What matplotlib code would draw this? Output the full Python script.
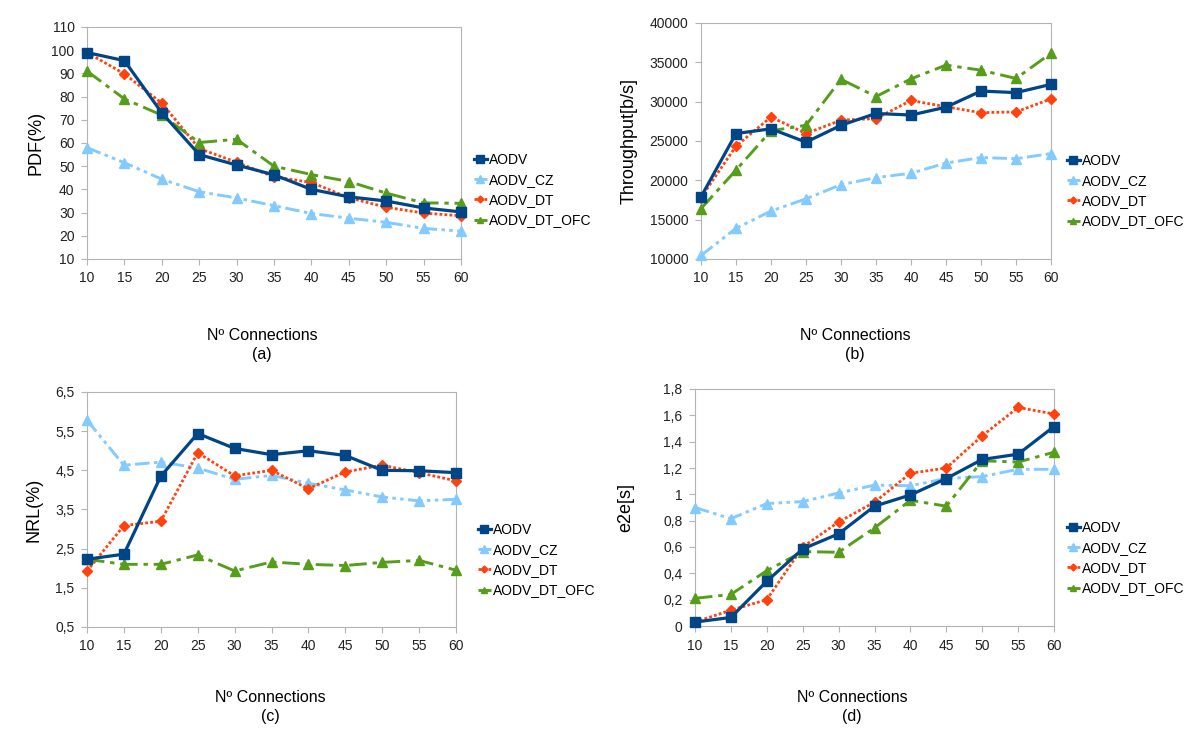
import matplotlib.pyplot as plt
from matplotlib.ticker import FuncFormatter

plt.rcParams['font.family'] = ['Liberation Sans', 'DejaVu Sans']

connections = [10, 15, 20, 25, 30, 35, 40, 45, 50, 55, 60]
series_names = ['AODV', 'AODV_CZ', 'AODV_DT', 'AODV_DT_OFC']

# (a) packet delivery fraction
pdf_aodv = [99, 95.5, 73, 55, 50.5, 46.3, 40, 36.8, 35, 32, 30.3]
pdf_cz = [58, 51.5, 44.4, 39, 36.3, 33, 29.6, 27.6, 25.8, 23.2, 22]
pdf_dt = [99, 89.8, 77.2, 57.6, 51.7, 45.4, 43, 36.4, 32.3, 29.8, 28.6]
pdf_ofc = [91, 79, 72, 60.2, 61.6, 50, 46.4, 43.4, 38.4, 34.2, 34]

# (b) throughput
thr_aodv = [17900, 25950, 26550, 24850, 27000, 28500, 28300, 29300, 31350, 31150, 32200]
thr_cz = [10450, 13900, 16100, 17650, 19450, 20350, 20900, 22200, 22900, 22750, 23400]
thr_dt = [17800, 24350, 28050, 25950, 27650, 27850, 30150, 29350, 28600, 28700, 30350]
thr_ofc = [16400, 21300, 26300, 27000, 32850, 30650, 32900, 34650, 34000, 32950, 36150]

# (c) normalized routing load
nrl_aodv = [2.23, 2.36, 4.35, 5.44, 5.06, 4.9, 5.0, 4.88, 4.5, 4.49, 4.44]
nrl_cz = [5.78, 4.63, 4.71, 4.56, 4.27, 4.37, 4.17, 4.0, 3.82, 3.72, 3.76]
nrl_dt = [1.93, 3.09, 3.2, 4.95, 4.36, 4.5, 4.03, 4.46, 4.63, 4.44, 4.23]
nrl_ofc = [2.23, 2.1, 2.1, 2.34, 1.93, 2.16, 2.1, 2.07, 2.15, 2.2, 1.95]

# (d) end to end delay
e2e_aodv = [0.03, 0.065, 0.34, 0.585, 0.7, 0.91, 0.995, 1.12, 1.265, 1.305, 1.515]
e2e_cz = [0.9, 0.815, 0.93, 0.945, 1.01, 1.07, 1.065, 1.12, 1.135, 1.19, 1.19]
e2e_dt = [0.03, 0.12, 0.2, 0.6, 0.79, 0.94, 1.16, 1.2, 1.445, 1.66, 1.61]
e2e_ofc = [0.21, 0.24, 0.42, 0.565, 0.56, 0.745, 0.955, 0.91, 1.255, 1.245, 1.32]

colors = ['#004586', '#83caff', '#ff420e', '#579d1c']
markers = ['s', '^', 'D', '^']
msizes = [7.5, 7.5, 5, 7]
lstyles = ['-', (0, (5, 1.5, 1.2, 1.5, 1.2, 1.5)), (0, (1, 0.8)), (0, (6, 2, 1.5, 2))]
lwidths = [2.3, 2.1, 2.0, 2.1]
zorders = [6, 3, 4, 5]

W, H = 1200, 750
fig = plt.figure(figsize=(12, 7.5), dpi=100)


def add_panel(box, data, ylim, yticks, ylabel, ylab_x, fmt, letter, label_x, label_y, leg_x, leg_y):
    l, t, r, b = box
    ax = fig.add_axes([l / W, 1 - b / H, (r - l) / W, (b - t) / H])
    for i, name in enumerate(series_names):
        ax.plot(connections, data[i], color=colors[i], marker=markers[i],
                markersize=msizes[i], linestyle=lstyles[i], linewidth=lwidths[i],
                label=name, zorder=zorders[i], clip_on=False)
    ax.set_xlim(10, 60)
    ax.set_ylim(*ylim)
    ax.set_xticks(connections)
    ax.set_yticks(yticks)
    ax.yaxis.set_major_formatter(FuncFormatter(fmt))
    for s in ax.spines.values():
        s.set_color('#b3b3b3')
        s.set_linewidth(0.8)
    ax.tick_params(colors='#b3b3b3', labelcolor='#222222', labelsize=10,
                   length=4, width=0.8, pad=5)
    fig.text(ylab_x / W, 1 - (t + b) / 2 / H, ylabel, rotation=90,
             ha='center', va='center', fontsize=13)
    fig.text(label_x / W, 1 - label_y / H, 'Nº Connections', ha='center',
             va='center', fontsize=11.5)
    fig.text(label_x / W, 1 - (label_y + 19) / H, '(' + letter + ')', ha='center',
             va='center', fontsize=11.5)
    ax.legend(loc='center left', bbox_to_anchor=(leg_x / W, 1 - leg_y / H),
              bbox_transform=fig.transFigure, frameon=False, fontsize=10,
              handlelength=0.9, handletextpad=0.2, labelspacing=0.45,
              borderpad=0, borderaxespad=0, markerscale=0.7)
    return ax


def comma(v, pos):
    s = ('%.1f' % v).rstrip('0').rstrip('.')
    return s.replace('.', ',')


def integer(v, pos):
    return '%d' % v


add_panel((87, 27, 461, 259), [pdf_aodv, pdf_cz, pdf_dt, pdf_ofc], (10, 110),
          range(10, 111, 10), 'PDF(%)', 36, integer, 'a', 262, 335, 474, 190)
add_panel((701, 23, 1051, 259), [thr_aodv, thr_cz, thr_dt, thr_ofc], (10000, 40000),
          range(10000, 40001, 5000), 'Throughput[b/s]', 629, integer, 'b', 855, 335, 1067, 191)
add_panel((87, 392, 456, 627), [nrl_aodv, nrl_cz, nrl_dt, nrl_ofc], (0.5, 6.5),
          [0.5, 1.5, 2.5, 3.5, 4.5, 5.5, 6.5], 'NRL(%)', 34, comma, 'c', 270, 698, 478, 560)
add_panel((695, 389, 1054, 626), [e2e_aodv, e2e_cz, e2e_dt, e2e_ofc], (0, 1.8),
          [0, 0.2, 0.4, 0.6, 0.8, 1.0, 1.2, 1.4, 1.6, 1.8], 'e2e[s]', 626, comma, 'd', 852, 698, 1067, 558)

fig.savefig('out.png', dpi=100, facecolor='white')
